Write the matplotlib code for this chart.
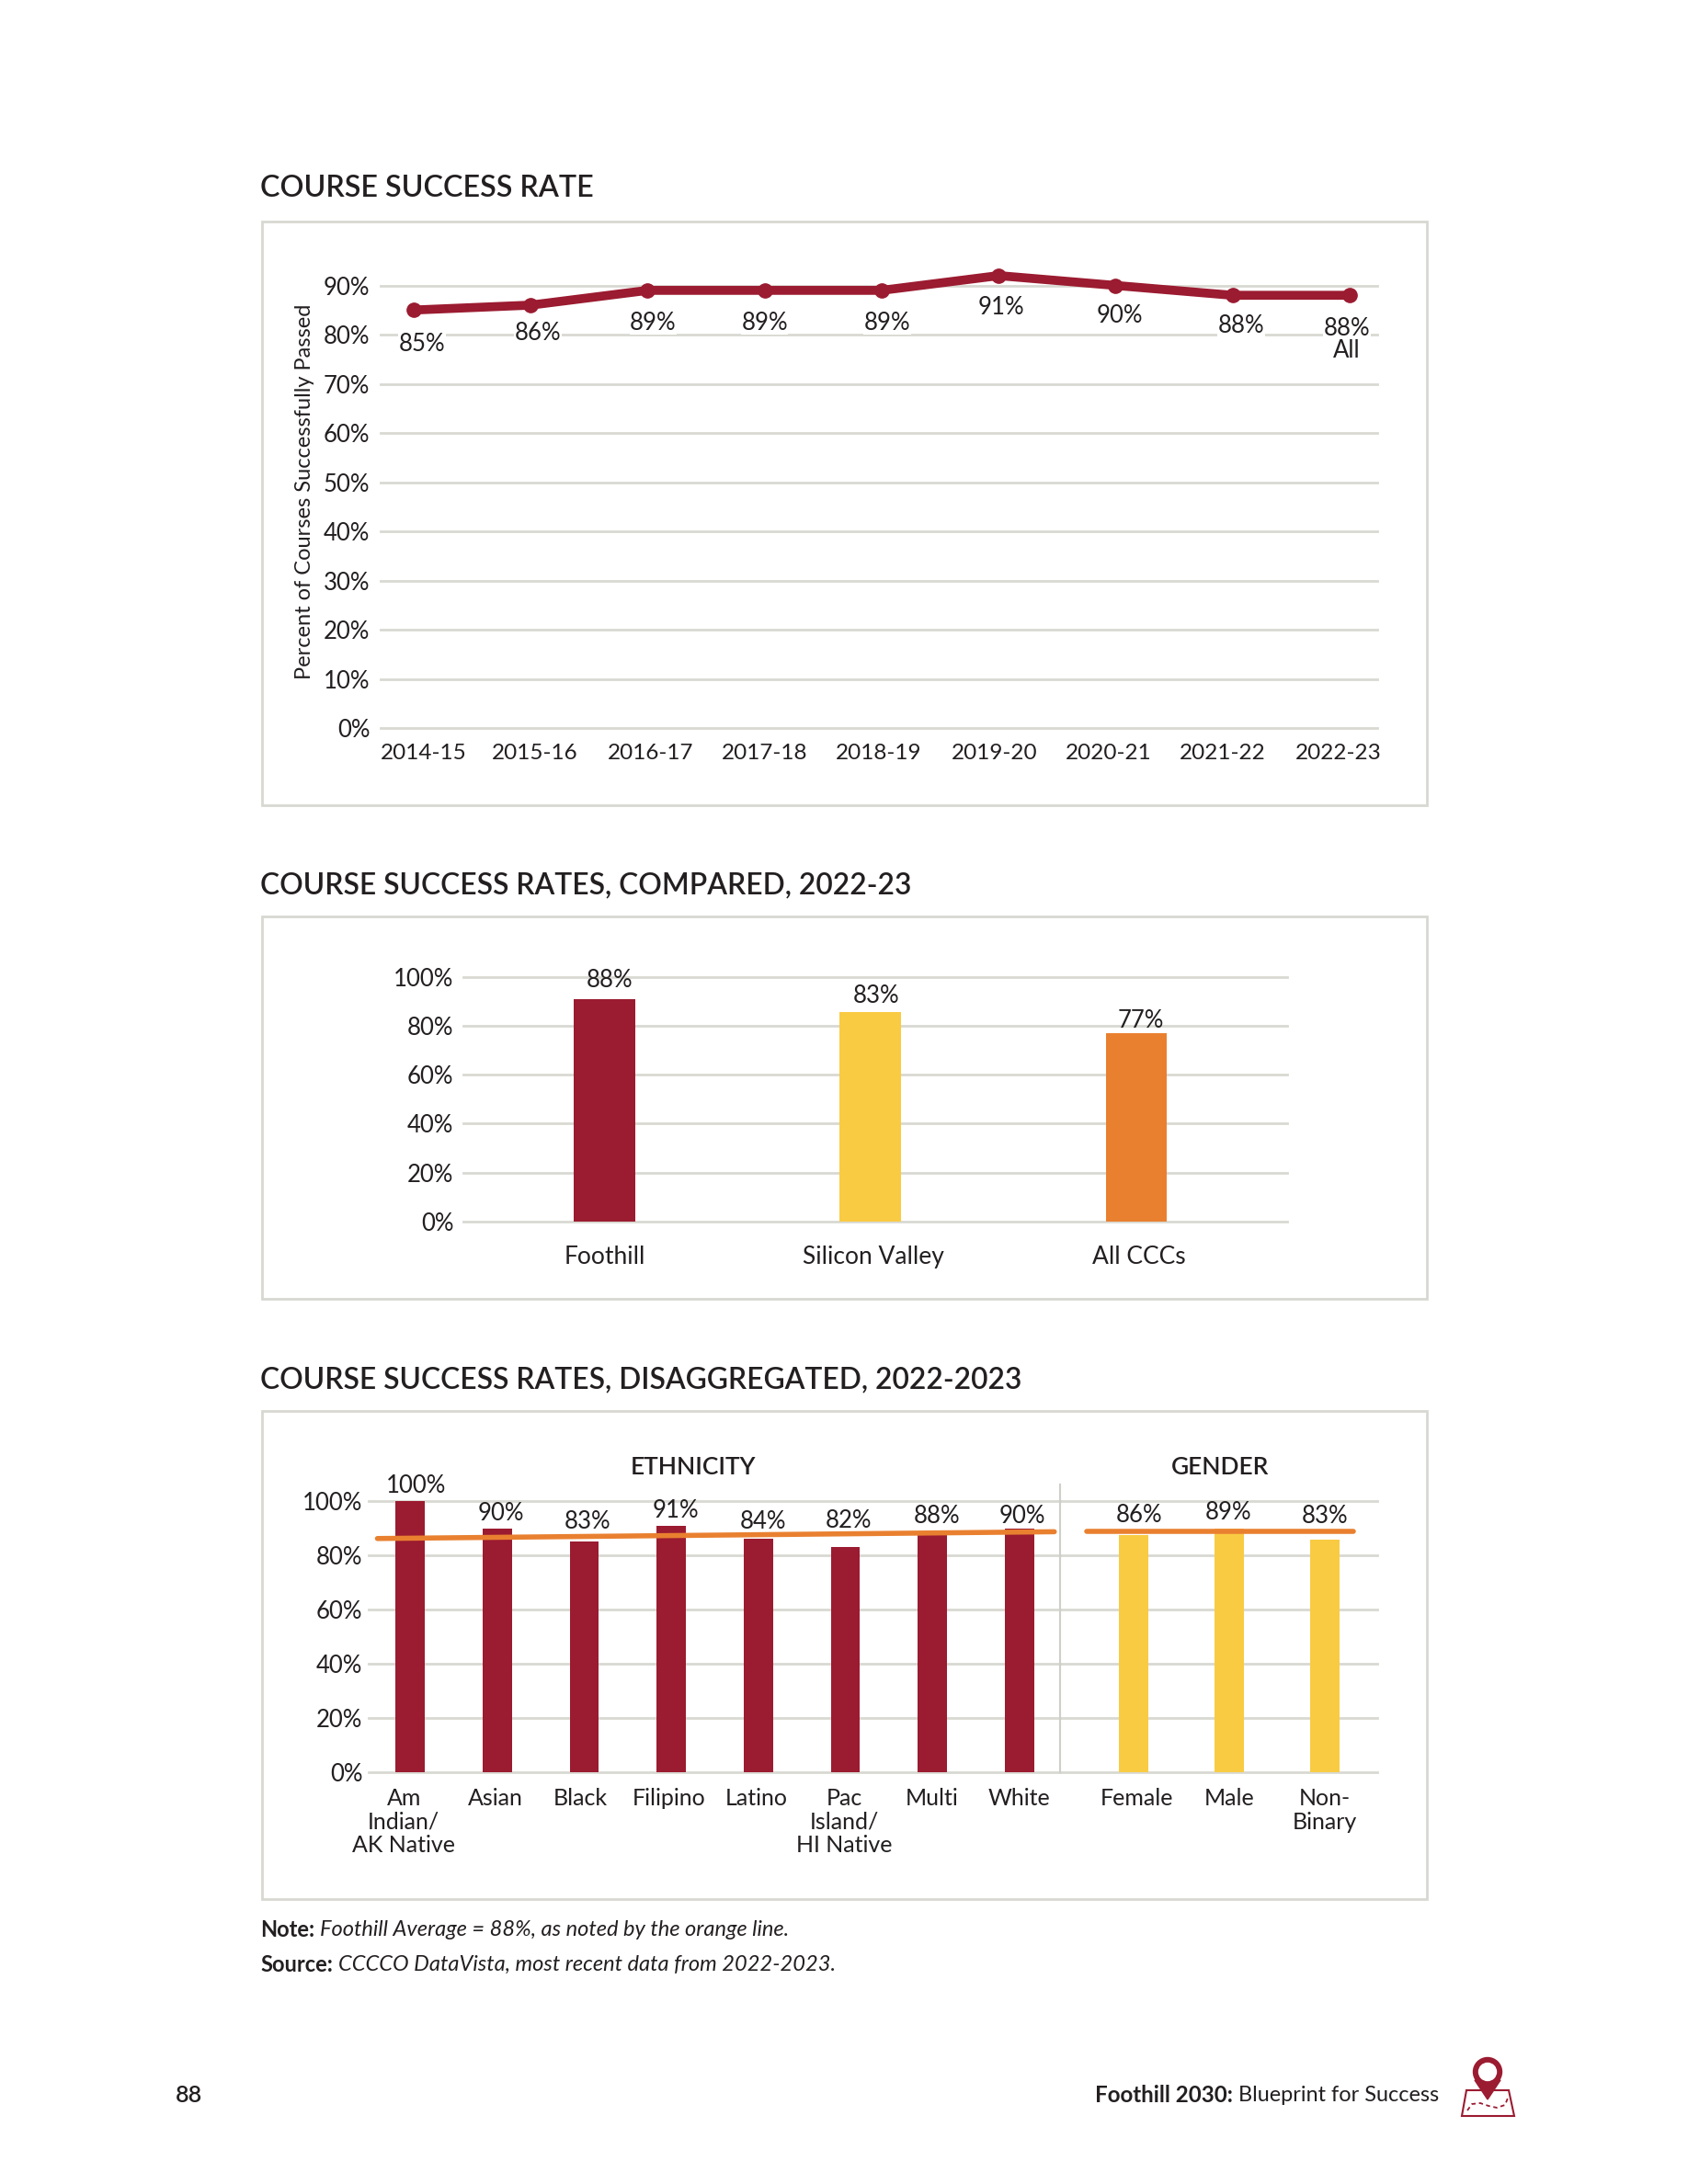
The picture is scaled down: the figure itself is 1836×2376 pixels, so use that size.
import matplotlib
matplotlib.use("Agg")
import matplotlib.pyplot as plt
from matplotlib.patches import Rectangle, Circle, Polygon

# ---------- data ----------
years = ["2014-15", "2015-16", "2016-17", "2017-18", "2018-19", "2019-20", "2020-21", "2021-22", "2022-23"]
rate_drawn = [85, 86, 89, 89, 89, 92, 90, 88, 88]
rate_labels = ["85%", "86%", "89%", "89%", "89%", "91%", "90%", "88%", "88%"]
rate_ticks = [0, 10, 20, 30, 40, 50, 60, 70, 80, 90]

colleges = ["Foothill", "Silicon Valley", "All CCCs"]
college_drawn = [91, 86, 77]
college_labels = ["88%", "83%", "77%"]
pct_ticks = [0, 20, 40, 60, 80, 100]

ethnicity = ["Am\nIndian/\nAK Native", "Asian", "Black", "Filipino", "Latino", "Pac\nIsland/\nHI Native", "Multi", "White"]
ethnicity_drawn = [100, 90, 85, 91, 86, 83, 88, 90]
ethnicity_labels = ["100%", "90%", "83%", "91%", "84%", "82%", "88%", "90%"]
avg_eth = [86.2, 88.7]

gender = ["Female", "Male", "Non-\nBinary"]
gender_drawn = [87.5, 90, 85.7]
gender_labels = ["86%", "89%", "83%"]
avg_gen = [88.7, 88.7]

# ---------- style ----------
W, H = 1836, 2376
RED, YEL, ORG = "#9B1B30", "#F9CB43", "#E98030"
GRID, BOX, INK = "#D9D9D3", "#D8D8D2", "#231F20"
plt.rcParams["font.family"] = ["Lato", "DejaVu Sans"]
FS = 18.5
FS_YEAR = 17.5
FS_CAT = 19
FS_CAT3 = 18
S = 1836 / 1212  # shrunk-view to full pixels

fig = plt.figure(figsize=(W / 100, H / 100), dpi=100, facecolor="white")
bg = fig.add_axes([0, 0, 1, 1], zorder=-1)
bg.set_xlim(0, W); bg.set_ylim(H, 0); bg.axis("off")
fg = fig.add_axes([0, 0, 1, 1], zorder=20)
fg.set_xlim(0, W); fg.set_ylim(H, 0); fg.axis("off")
fg.patch.set_visible(False)


def P(v):
    return v * S


def mk_axes(x0, ytop, x1, ybot):
    ax = fig.add_axes([P(x0) / W, 1 - P(ybot) / H, P(x1 - x0) / W, P(ybot - ytop) / H])
    ax.patch.set_visible(False)
    for s in ax.spines.values():
        s.set_visible(False)
    ax.tick_params(length=0, labelsize=FS, colors=INK)
    ax.set_axisbelow(True)
    ax.grid(axis="y", color=GRID, lw=2)
    return ax


def noclip(ax):
    for g in ax.get_ygridlines():
        g.set_clip_on(False)


def panel(title, ty, y0, y1, fs=22.9):
    bg.add_patch(Rectangle((P(188), P(y0)), P(1024.5 - 188), P(y1 - y0), fc="white", ec=BOX, lw=2))
    bg.text(P(187), P(ty + 2), title, fontsize=fs, weight="semibold", color=INK, va="center", ha="left")


def lab(x, y, s, **kw):
    kw.setdefault("ha", "center")
    kw.setdefault("va", "center")
    kw.setdefault("fontsize", FS)
    kw.setdefault("color", INK)
    return fg.text(P(x), P(y + 2), s, **kw)


def vlab(x, y, s):
    lab(x, y, s, bbox=dict(fc="white", ec="none", pad=0.4))


# ---------- panel 1 ----------
panel("COURSE SUCCESS RATE", 133, 159, 578, fs=23.2)
step = 84
ax1 = mk_axes(273, 205, 989, 523)
ax1.set_xlim((273 - 297) / step, (989 - 297) / step); ax1.set_ylim(0, 90)
ax1.set_yticks(rate_ticks, [f"{t}%" for t in rate_ticks])
noclip(ax1)
ax1.plot(range(len(years)), rate_drawn, color=RED, lw=7, marker="o", ms=11, clip_on=False,
         solid_capstyle="round", zorder=4)
ax1.tick_params(axis="y", pad=8)
ax1.set_xticks([])
for x, t in zip([304, 384, 467, 549, 631, 714, 796, 878, 961], years):
    lab(x, 539, t, fontsize=FS_YEAR)
for x, y, t in zip([303, 386, 469, 549, 637, 719, 804, 891, 967],
                   [245, 237, 230, 230, 230, 219, 225, 232, 234], rate_labels):
    vlab(x, y, t)
lab(967, 250, "All")
lab(219, 351, "Percent of Courses Successfully Passed", rotation=90, fontsize=17)

# ---------- panel 2 ----------
panel("COURSE SUCCESS RATES, COMPARED, 2022-23", 634, 658, 933)
ax2 = mk_axes(333, 702, 924, 877)
step2 = 191
ax2.set_xlim((333 - 434) / step2, (924 - 434) / step2); ax2.set_ylim(0, 100)
ax2.set_yticks(pct_ticks, [f"{t}%" for t in pct_ticks])
noclip(ax2)
ax2.tick_params(axis="y", pad=8)
ax2.bar(range(3), college_drawn, width=44 / step2, color=[RED, YEL, ORG], zorder=2)
ax2.set_xticks([])
for x, t in zip([434, 627, 818], colleges):
    lab(x, 901, t, fontsize=FS_CAT)
for x, y, t in zip([438, 629, 819], [702, 713, 731], college_labels):
    lab(x, y, t)

# ---------- panel 3 ----------
panel("COURSE SUCCESS RATES, DISAGGREGATED, 2022-2023", 989, 1013, 1364)
step3 = 62.5
ax3 = mk_axes(265, 1078, 761, 1273)
ax3.set_xlim((265 - 294.5) / step3, (761 - 294.5) / step3); ax3.set_ylim(0, 100)
ax3.set_yticks(pct_ticks, [f"{t}%" for t in pct_ticks])
noclip(ax3)
ax3.tick_params(axis="y", pad=5)
ax3.bar(range(8), ethnicity_drawn, width=21 / step3, color=RED, zorder=2)
ax3.set_xticks([])
ax3.plot([(271 - 294.5) / step3, (757 - 294.5) / step3], avg_eth, color=ORG, lw=4,
         solid_capstyle="round", zorder=3, clip_on=False)

step4 = 68.5
ax4 = mk_axes(761, 1078, 989, 1273)
ax4.set_xlim((761 - 814) / step4, (989 - 814) / step4); ax4.set_ylim(0, 100)
ax4.set_yticks(pct_ticks, [""] * 6)
noclip(ax4)
ax4.bar(range(3), gender_drawn, width=21 / step4, color=YEL, zorder=2)
ax4.set_xticks([])
ax4.plot([(780 - 814) / step4, (972 - 814) / step4], avg_gen, color=ORG, lw=4,
         solid_capstyle="round", zorder=3, clip_on=False)
fg.plot([P(761), P(761)], [P(1066), P(1273)], color="#CFCFCA", lw=1.5)

lab(498, 1052, "ETHNICITY", weight="semibold", fontsize=19)
lab(876, 1052, "GENDER", weight="semibold", fontsize=19)
for x, t in zip([290, 356, 417, 480, 543, 606, 669, 732], ethnicity):
    lab(x, 1282, t, va="top", linespacing=1.13, fontsize=FS_CAT3)
for x, t in zip([816, 883, 951], gender):
    lab(x, 1282, t, va="top", linespacing=1.13, fontsize=FS_CAT3)
for x, y, t in zip([299, 360, 422, 485, 548, 609, 673, 734],
                   [1065, 1085, 1091, 1083, 1091, 1090, 1087, 1087], ethnicity_labels):
    lab(x, y, t)
for x, y, t in zip([818, 882, 951], [1086, 1084, 1087], gender_labels):
    lab(x, y, t)

# ---------- notes and footer ----------
fs_note = 17
lab(187, 1384, "Note:", ha="left", weight="bold", fontsize=fs_note)
lab(230, 1384, "Foothill Average = 88%, as noted by the orange line.", ha="left", style="italic", fontsize=fs_note)
lab(187, 1409, "Source:", ha="left", weight="bold", fontsize=fs_note)
lab(243, 1409, "CCCCO DataVista, most recent data from 2022-2023.", ha="left", style="italic", fontsize=fs_note)
lab(135.5, 1503, "88", weight="semibold", fontsize=18)
lab(786, 1503, "Foothill 2030:", ha="left", weight="bold", fontsize=17.4)
lab(889, 1503, "Blueprint for Success", ha="left", fontsize=16.9)

# map-pin icon (pixel coordinates)
dx = 3
bg.add_patch(Polygon([(1592 + dx, 2274), (1638 + dx, 2274), (1644 + dx, 2302), (1587 + dx, 2302)],
                     closed=True, fc="white", ec=RED, lw=1.5))
bg.add_patch(Polygon([(1601 + dx, 2263), (1629 + dx, 2263), (1615 + dx, 2284)], closed=True, fc=RED, ec=RED, lw=1))
bg.add_patch(Circle((1615 + dx, 2254), 15.5, fc=RED, ec=RED))
bg.add_patch(Circle((1615 + dx, 2254), 9.5, fc="white", ec="white"))
bg.plot([1593 + dx, 1598 + dx, 1607 + dx, 1616 + dx, 1625 + dx, 1634 + dx, 1638 + dx],
        [2296, 2289, 2288, 2291, 2293, 2290, 2280], color=RED, lw=1.3, ls=(0, (2.5, 2)))

fig.savefig("out.png", dpi=100)
